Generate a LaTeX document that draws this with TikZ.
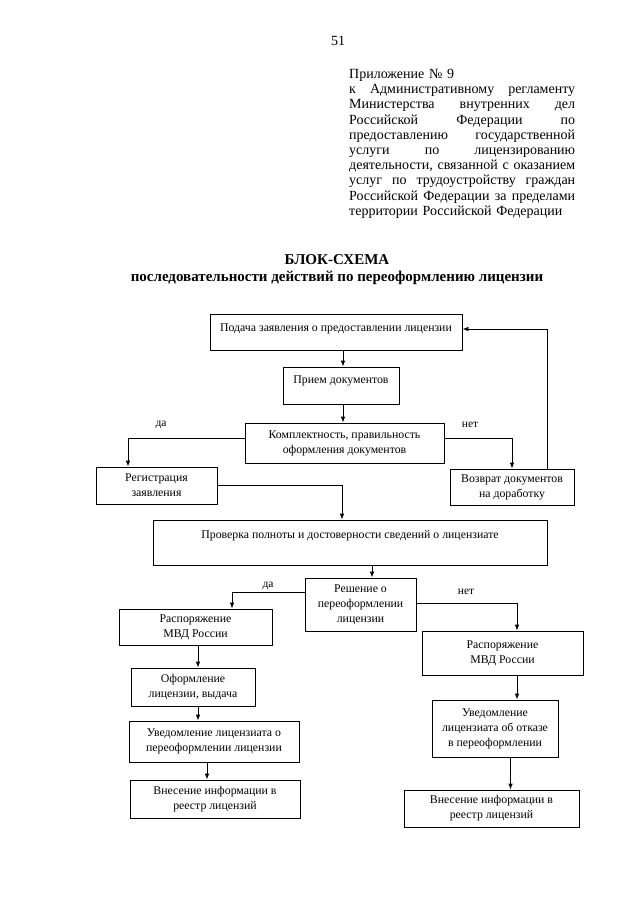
\documentclass[tikz,border=0pt]{standalone}
\usepackage{fontspec}
\setmainfont{Liberation Serif}
\usetikzlibrary{arrows.meta,calc}
\newcommand{\jline}[1]{\leavevmode\hbox to 226pt{#1}}
\begin{document}
\begin{tikzpicture}[x=1pt,y=-1pt,
  box/.style={draw,line width=0.8pt,inner sep=0pt,align=center,
    font=\fontsize{11.8}{15}\selectfont},
  arr/.style={line width=0.8pt,-{Latex[length=6pt,width=4.5pt]}},
  lbl/.style={font=\fontsize{11.5}{13}\selectfont,inner sep=0pt},
  hdr/.style={inner sep=0pt,font=\fontsize{14}{15.2}\selectfont}]
\useasboundingbox (0,0) rectangle (640,905);
\fill[white] (0,0) rectangle (640,905);

% page number
\node[hdr] (pg) at (338,41) {51};

% header block
\node[hdr,anchor=north west,text width=226pt,align=left] (head) at (349,69) {%
Приложение № 9\\
\jline{к\hfill Административному\hfill регламенту}\\
\jline{Министерства\hfill внутренних\hfill дел}\\
\jline{Российской\hfill Федерации\hfill по}\\
\jline{предоставлению\hfill государственной}\\
\jline{услуги\hfill по\hfill лицензированию}\\
\jline{деятельности,\hfill связанной\hfill с\hfill оказанием}\\
\jline{услуг\hfill по\hfill трудоустройству\hfill граждан}\\
\jline{Российской\hfill Федерации\hfill за\hfill пределами}\\
территории Российской Федерации};

% title
\node[inner sep=0pt,font=\bfseries\fontsize{15}{18}\selectfont] (title) at (337,260) {БЛОК-СХЕМА};
\node[inner sep=0pt,font=\bfseries\fontsize{15}{18}\selectfont] (subtitle) at (337,278) {последовательности действий по переоформлению лицензии};

% boxes
\node[box,minimum width=252pt,minimum height=36pt,text depth=9pt] (b1) at (336,332) {Подача заявления о предоставлении лицензии};
\node[box,minimum width=116pt,minimum height=37pt,text depth=12pt] (b2) at (341,385.5) {Прием документов};
\node[box,minimum width=199pt,minimum height=40pt] (b3) at (344.5,443) {Комплектность, правильность\\оформления документов};
\node[box,minimum width=121pt,minimum height=37pt] (b4) at (156.5,485.5) {Регистрация\\заявления};
\node[box,minimum width=124pt,minimum height=36pt] (b5) at (512,487) {Возврат документов\\на доработку};
\node[box,minimum width=394pt,minimum height=45pt,text depth=16pt] (b6) at (350,542.5) {Проверка полноты и достоверности сведений о лицензиате};
\node[box,minimum width=111pt,minimum height=53pt] (b7) at (360.5,604.5) {Решение о\\переоформлении\\лицензии};
\node[box,minimum width=153pt,minimum height=36pt] (b8) at (195.5,627) {Распоряжение\\МВД России};
\node[box,minimum width=161pt,minimum height=44pt] (b9) at (502.5,653) {Распоряжение\\МВД России};
\node[box,minimum width=124pt,minimum height=38pt] (b10) at (193,687) {Оформление\\лицензии, выдача};
\node[box,minimum width=170pt,minimum height=41pt] (b11) at (214,741.5) {Уведомление лицензиата о\\переоформлении лицензии};
\node[box,minimum width=126pt,minimum height=57pt] (b12) at (495,728.5) {Уведомление\\лицензиата об отказе\\в переоформлении};
\node[box,minimum width=170pt,minimum height=38pt] (b13) at (215,799) {Внесение информации в\\реестр лицензий};
\node[box,minimum width=175pt,minimum height=37pt] (b14) at (491.5,808.5) {Внесение информации в\\реестр лицензий};

% labels
\node[lbl] (yes1) at (161,425) {да};
\node[lbl] (no1) at (470,425) {нет};
\node[lbl] (yes2) at (268,586) {да};
\node[lbl] (no2) at (466,592) {нет};

% connectors
\draw[arr] ([xshift=2pt]b2.north |- b1.south) -- ([xshift=2pt]b2.north);
\draw[arr] ([xshift=2pt]b2.south) -- ([xshift=2pt]b2.south |- b3.north);
\draw[arr] ([yshift=5pt]b3.west) -| ([xshift=-28.5pt]b4.north);
\draw[arr] ([yshift=5pt]b3.east) -| (b5.north);
\draw[arr] (b4.east) -| ([xshift=-8pt]b6.north);
\draw[arr] ([xshift=35pt]b5.north) |- ([yshift=3pt]b1.east);
\draw[arr] ([xshift=11.5pt]b7.north |- b6.south) -- ([xshift=11.5pt]b7.north);
\draw[arr] ([yshift=12.5pt]b7.west) -| ([xshift=36.5pt]b8.north);
\draw[arr] ([yshift=1.5pt]b7.east) -| ([xshift=14.5pt]b9.north);
\draw[arr] ([xshift=5pt]b10.north |- b8.south) -- ([xshift=5pt]b10.north);
\draw[arr] ([xshift=5pt]b10.south) -- ([xshift=5pt]b10.south |- b11.north);
\draw[arr] ([xshift=-7pt]b11.south) -- ([xshift=-7pt]b11.south |- b13.north);
\draw[arr] ([xshift=22pt]b12.north |- b9.south) -- ([xshift=22pt]b12.north);
\draw[arr] ([xshift=15.5pt]b12.south) -- ([xshift=15.5pt]b12.south |- b14.north);
\end{tikzpicture}
\end{document}
